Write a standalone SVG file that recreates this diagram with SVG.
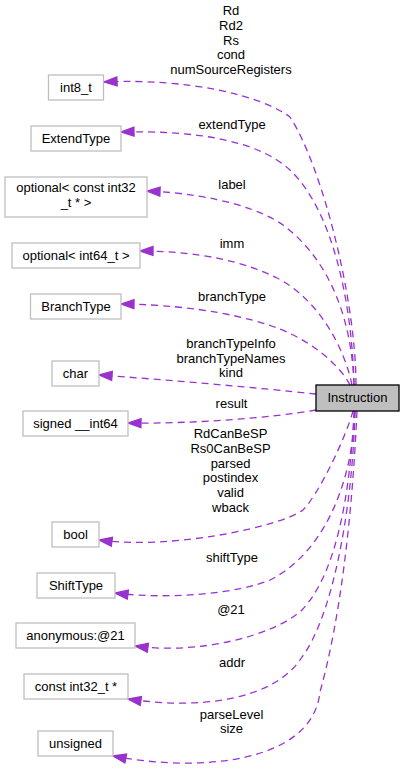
<svg xmlns="http://www.w3.org/2000/svg" width="404" height="773" viewBox="0 0 404 773">
<style>
text{font-family:"Liberation Sans",Arial,Helvetica,sans-serif;font-size:13px;fill:#000;text-anchor:middle}
.n rect{fill:#fff;stroke:#bfbfbf;stroke-width:1.3}
#Instruction rect{fill:#bfbfbf;stroke:#000;stroke-width:1.3}
.e{fill:none;stroke:#9a32cd;stroke-width:1.3;stroke-dasharray:7,5;marker-end:url(#ah)}
</style>
<defs>
<marker id="ah" markerUnits="userSpaceOnUse" markerWidth="15" markerHeight="11" refX="13" refY="4.5" orient="auto" overflow="visible">
<path d="M0,0 L13,4.5 L0,9 Z" fill="#9a32cd" stroke="#9a32cd" stroke-width="1.3"/>
</marker>
</defs>
<rect width="404" height="773" fill="#fff"/>
<g id="connectors">
<path class="e" d="M356,385 C356,300 322,166 290,117 C262,96 190,78 104,82"/>
<path class="e" d="M354,385 C352,300 332,210 290,170 C260,142 200,130 121,132"/>
<path class="e" d="M354,385 C352,320 330,260 283,225 C265,212 220,194 147,191"/>
<path class="e" d="M352,385 C345,350 320,300 277,278 C245,262 200,251 140,251"/>
<path class="e" d="M350,385 C340,365 310,340 277,328 C250,318 200,305 121,304"/>
<path class="e" d="M316,394 C260,388 170,380 99,375"/>
<path class="e" d="M316,410 C270,418 190,424 128,423"/>
<path class="e" d="M353,411 C345,440 318,495 303,510 C280,527 170,550 99,540"/>
<path class="e" d="M355,411 C352,490 320,555 270,580 C240,593 170,600 115,593"/>
<path class="e" d="M354,411 C350,500 335,575 302,610 C275,635 200,655 135,646"/>
<path class="e" d="M355,411 C352,520 330,620 302,657 C275,700 200,710 128,699"/>
<path class="e" d="M357,411 C352,520 340,620 320,692 C312,765 195,772 113,756"/>
<text x="231" y="15.3">Rd</text>
<text x="231" y="30">Rd2</text>
<text x="231" y="44.7">Rs</text>
<text x="231" y="59.3">cond</text>
<text x="231" y="74">numSourceRegisters</text>
<text x="232" y="128.5">extendType</text>
<text x="232" y="189">label</text>
<text x="232" y="247.5">imm</text>
<text x="232" y="300.5">branchType</text>
<text x="231" y="348">branchTypeInfo</text>
<text x="231" y="362.5">branchTypeNames</text>
<text x="231" y="377">kind</text>
<text x="231.5" y="408">result</text>
<text x="230.5" y="438">RdCanBeSP</text>
<text x="230.5" y="452.8">Rs0CanBeSP</text>
<text x="230.5" y="467.6">parsed</text>
<text x="230.5" y="482.4">postindex</text>
<text x="230.5" y="497.2">valid</text>
<text x="230.5" y="512">wback</text>
<text x="232" y="562">shiftType</text>
<text x="231" y="614">@21</text>
<text x="232" y="666.5">addr</text>
<text x="231.5" y="718.5">parseLevel</text>
<text x="231.5" y="733">size</text>
</g>
<g id="Instruction"><rect x="316" y="385" width="83" height="26"/><text x="357.5" y="402">Instruction</text></g>
<g id="int8_t" class="n"><rect x="48.5" y="75" width="55" height="25"/><text x="76" y="92">int8_t</text></g>
<g id="ExtendType" class="n"><rect x="31" y="126" width="90" height="25"/><text x="76" y="143">ExtendType</text></g>
<g id="optional_const_int32" class="n"><rect x="5" y="177" width="142" height="40"/><text x="76" y="192">optional&lt; const int32</text><text x="76" y="206.5">_t * &gt;</text></g>
<g id="optional_int64" class="n"><rect x="12" y="243" width="128" height="25"/><text x="76" y="260">optional&lt; int64_t &gt;</text></g>
<g id="BranchType" class="n"><rect x="30.5" y="294" width="90.5" height="25"/><text x="76" y="311">BranchType</text></g>
<g id="char" class="n"><rect x="52" y="361" width="47" height="25"/><text x="75.5" y="378">char</text></g>
<g id="signed_int64" class="n"><rect x="23" y="411" width="105" height="25"/><text x="75.5" y="428">signed __int64</text></g>
<g id="bool" class="n"><rect x="52" y="522" width="47" height="25"/><text x="75.5" y="539">bool</text></g>
<g id="ShiftType" class="n"><rect x="37" y="573" width="78" height="25"/><text x="76" y="590">ShiftType</text></g>
<g id="anonymous21" class="n"><rect x="16" y="623" width="119" height="25"/><text x="75.5" y="640">anonymous:@21</text></g>
<g id="const_int32_ptr" class="n"><rect x="24" y="674" width="104" height="25"/><text x="76" y="691">const int32_t *</text></g>
<g id="unsigned" class="n"><rect x="38" y="731" width="75" height="25"/><text x="75.5" y="748">unsigned</text></g>
</svg>
